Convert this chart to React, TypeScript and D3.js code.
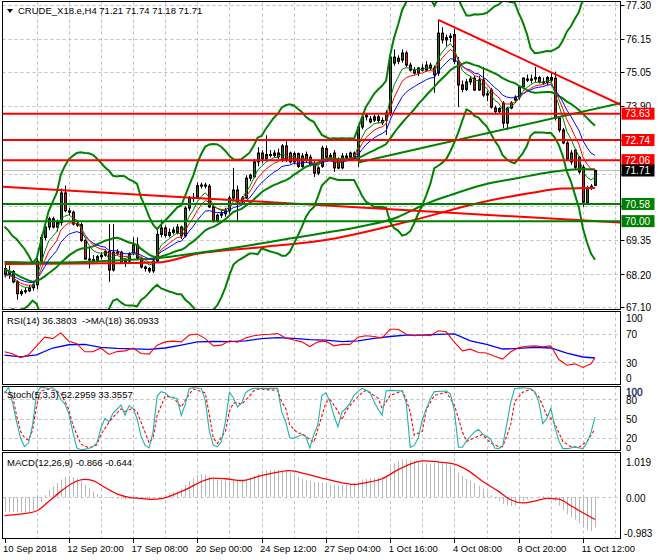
import React, { useEffect } from 'react'
import * as d3 from 'd3'

const W = 660
const H = 560

// CRUDE_X18.e H4 candles, bar 0 = 10 Sep 2018 00:00
const OPEN = [
  68.40, 68.20, 68.30, 67.95, 67.55, 67.62, 67.65, 67.75, 67.85, 68.65,
  69.45, 69.80, 70.08, 69.80, 69.95, 70.95, 70.35, 70.30, 69.90, 69.88,
  69.35, 68.72, 68.70, 68.65, 68.80, 68.85, 68.98, 68.35, 68.95, 68.95,
  68.60, 68.65, 68.90, 69.20, 68.75, 68.45, 68.40, 68.32, 68.65, 69.55,
  69.77, 69.52, 69.62, 69.62, 69.80, 69.50, 70.44, 70.78, 70.80, 71.20,
  71.22, 71.18, 70.48, 70.00, 70.20, 70.25, 70.35, 70.78, 71.05, 70.65,
  70.78, 71.45, 71.50, 72.00, 72.30, 72.10, 72.25, 72.22, 72.30, 72.05,
  72.54, 72.30, 72.00, 72.28, 71.85, 72.25, 72.16, 71.95, 71.62, 71.85,
  72.45, 72.16, 72.30, 72.06, 71.80, 72.20, 72.15, 72.30, 72.06, 73.18,
  73.52, 73.45, 73.41, 73.52, 73.40, 73.41, 73.65, 75.34, 75.50, 75.44,
  75.68, 75.27, 75.10, 75.00, 75.17, 75.10, 75.27, 75.17, 75.00, 76.35,
  76.12, 76.20, 76.30, 75.40, 74.60, 74.45, 74.70, 74.83, 74.43, 74.77,
  74.26, 74.43, 73.82, 73.70, 73.99, 73.31, 73.82, 74.09, 74.19, 74.53,
  74.80, 74.76, 74.80, 74.85, 74.70, 74.68, 74.85, 74.83, 73.48, 73.08,
  72.64, 72.00, 72.40, 72.16, 71.82, 70.61, 71.12, 71.21,
]
const HIGH = [
  68.55, 68.50, 68.35, 68.00, 67.70, 67.75, 67.85, 67.95, 68.75, 69.55,
  69.85, 70.15, 70.15, 70.05, 71.10, 71.20, 70.45, 70.35, 70.00, 69.95,
  69.40, 69.10, 68.85, 68.85, 68.95, 69.05, 69.90, 69.90, 69.05, 69.00,
  68.75, 68.95, 69.45, 69.45, 68.80, 68.50, 68.45, 68.75, 69.70, 70.05,
  69.85, 69.75, 69.80, 69.90, 69.85, 70.50, 70.85, 70.95, 71.30, 71.30,
  71.30, 71.25, 70.55, 70.25, 70.40, 70.45, 70.85, 71.80, 71.20, 70.85,
  71.55, 71.60, 72.10, 72.50, 72.40, 72.90, 72.40, 72.40, 72.45, 72.60,
  72.70, 72.35, 72.35, 72.32, 72.30, 72.35, 72.25, 72.05, 71.85, 72.55,
  72.55, 72.30, 72.40, 72.15, 72.30, 72.30, 72.35, 72.35, 73.25, 73.60,
  73.65, 73.55, 73.60, 73.60, 73.50, 73.75, 75.70, 75.80, 75.60, 75.80,
  75.75, 75.35, 75.20, 75.20, 75.30, 75.40, 75.35, 75.25, 76.80, 76.55,
  76.30, 76.35, 76.50, 75.55, 74.75, 74.80, 74.90, 74.90, 74.90, 75.20,
  74.40, 74.50, 73.90, 73.85, 74.05, 73.85, 74.05, 74.25, 74.55, 74.85,
  74.95, 74.95, 75.21, 74.90, 74.85, 74.90, 75.00, 75.05, 73.55, 73.15,
  72.70, 72.40, 72.45, 72.20, 71.90, 71.20, 71.25, 71.74,
]
const LOW = [
  68.10, 68.05, 67.90, 67.35, 67.48, 67.55, 67.60, 67.65, 67.70, 68.60,
  69.35, 69.70, 69.75, 69.65, 69.85, 70.30, 70.20, 69.85, 69.80, 69.30,
  68.70, 68.40, 68.55, 68.60, 68.70, 68.80, 67.95, 68.30, 68.85, 68.55,
  68.45, 68.60, 68.85, 68.70, 68.40, 68.30, 68.25, 68.25, 68.60, 69.45,
  69.45, 69.45, 69.55, 69.55, 69.40, 69.45, 70.35, 70.65, 70.75, 71.10,
  71.10, 70.45, 69.95, 69.95, 70.10, 70.15, 70.25, 70.70, 69.97, 70.55,
  70.75, 71.35, 71.45, 71.85, 71.95, 72.05, 72.15, 72.15, 72.10, 72.00,
  72.00, 71.95, 71.95, 71.80, 71.80, 72.00, 71.85, 71.49, 71.55, 71.80,
  72.10, 72.05, 71.66, 71.75, 71.75, 72.10, 72.10, 72.05, 71.82, 73.10,
  73.40, 73.30, 73.35, 73.30, 73.25, 72.91, 73.55, 75.25, 75.30, 75.35,
  75.20, 75.05, 74.95, 74.90, 75.05, 75.05, 75.10, 74.33, 74.90, 76.00,
  75.90, 76.05, 75.30, 73.85, 74.35, 74.40, 74.60, 74.40, 74.40, 74.20,
  74.05, 73.80, 73.60, 73.65, 73.14, 73.08, 73.78, 74.00, 74.10, 74.45,
  74.70, 74.65, 74.70, 74.65, 74.60, 74.60, 74.70, 73.40, 73.00, 72.60,
  72.05, 71.90, 71.75, 71.60, 70.48, 70.55, 71.05, 71.18,
]
const CLOSE = [
  68.20, 68.30, 67.95, 67.55, 67.62, 67.65, 67.75, 67.85, 68.65, 69.45,
  69.80, 70.08, 69.80, 69.95, 70.95, 70.35, 70.30, 69.90, 69.88, 69.35,
  68.72, 68.70, 68.65, 68.80, 68.85, 68.98, 68.35, 68.95, 68.95, 68.60,
  68.65, 68.90, 69.20, 68.75, 68.45, 68.40, 68.32, 68.65, 69.55, 69.77,
  69.52, 69.62, 69.70, 69.80, 69.50, 70.44, 70.78, 70.80, 71.20, 71.22,
  71.18, 70.48, 70.00, 70.20, 70.25, 70.35, 70.78, 71.05, 70.65, 70.78,
  71.45, 71.55, 72.00, 72.30, 72.10, 72.25, 72.22, 72.30, 72.18, 72.54,
  72.08, 72.00, 72.28, 71.85, 72.20, 72.05, 71.89, 71.62, 71.80, 72.47,
  72.16, 72.22, 71.80, 71.79, 72.20, 72.15, 72.30, 72.15, 73.18, 73.52,
  73.58, 73.35, 73.52, 73.40, 73.32, 73.65, 75.54, 75.54, 75.40, 75.68,
  75.27, 75.10, 75.00, 75.17, 75.10, 75.27, 75.17, 74.94, 76.35, 76.12,
  76.20, 76.25, 75.40, 74.60, 74.45, 74.70, 74.80, 74.43, 74.77, 74.26,
  74.30, 73.85, 73.70, 73.80, 73.31, 73.82, 73.99, 74.19, 74.53, 74.83,
  74.76, 74.80, 74.85, 74.70, 74.68, 74.85, 74.76, 73.48, 73.08, 72.64,
  72.10, 72.30, 71.82, 71.66, 70.64, 71.12, 71.18, 71.71,
]
// closes before the first visible bar, only used to warm up the bands and averages
const PRE_CLOSE = [69.1, 69.2, 69.0, 69.05, 68.9, 68.9, 68.8, 68.2, 68.1, 67.95, 67.9, 67.8, 67.85, 67.95, 68.0, 67.9, 68.05, 68.15, 68.3]

// slow averages as [bar, price]
const MA_GREEN = [[0, 68.62], [10, 68.60], [20, 68.62], [30, 68.69], [38, 68.75], [48, 68.92], [60, 69.16], [70, 69.39], [81, 69.63], [89, 69.83], [98, 70.14], [102, 70.40], [106, 70.64], [111, 70.88], [119, 71.22], [128, 71.46], [136, 71.66], [144, 71.76], [147, 71.74]]
const MA_RED = [[0, 68.55], [20, 68.57], [38, 68.60], [48, 68.90], [64, 69.12], [81, 69.39], [102, 70.04], [118, 70.61], [131, 70.95], [139, 71.10], [147, 71.12]]

// drawn objects
const TREND_DOWN = [[108, 76.80], [153.4, 73.93]]
const TREND_UP = [[88, 71.98], [153.4, 73.99]]
const TREND_LONG = [[-1, 71.17], [153.4, 69.95]]
const LEVELS_RED = [73.63, 72.74, 72.06]
const LEVELS_GREEN = [70.58, 70.00]
const LAST_PRICE = 71.71

const PRICE_TICKS = [77.30, 76.15, 75.05, 73.90, 72.75, 71.60, 70.50, 69.35, 68.20, 67.10]
// ticks whose labels sit under a price tag
const HIDDEN_TICKS = [72.75, 71.60, 70.50]
const TIME_BARS = [0, 16, 32, 48, 64, 80, 96, 112, 128, 144]
const TIME_LABELS = ['10 Sep 2018', '12 Sep 20:00', '17 Sep 08:00', '20 Sep 00:00', '24 Sep 12:00', '27 Sep 04:00', '1 Oct 16:00', '4 Oct 08:00', '8 Oct 20:00', '11 Oct 12:00']

// RSI(14) and its MA(18), [bar, value]
const RSI = [[0, 44.7], [2, 42], [4, 36.5], [6, 40.5], [8, 53], [10, 65], [12, 63], [14, 71], [16, 59.5], [18, 56], [20, 44.7], [22, 44.7], [24, 50], [26, 41], [28, 45], [30, 46], [32, 50], [34, 42.4], [36, 41.5], [38, 54], [40, 58.5], [42, 59.5], [44, 58.5], [46, 68], [48, 69.5], [50, 63], [52, 53], [54, 54], [56, 60], [58, 58], [60, 64], [62, 67], [64, 68.5], [66, 69], [68, 70], [70, 64], [72, 61], [74, 58.5], [76, 52], [78, 58.5], [80, 59.5], [82, 53], [84, 55], [86, 55], [88, 65], [90, 67], [92, 66], [94, 64], [96, 76], [98, 76], [100, 69], [102, 67], [104, 68], [106, 67], [108, 74], [110, 72.5], [112, 58], [114, 46], [116, 48.4], [118, 43.8], [120, 43], [122, 38.5], [124, 34.6], [126, 44.7], [128, 50.5], [130, 52.5], [132, 53], [134, 51.5], [136, 53], [138, 34], [140, 26], [142, 28], [144, 23], [146, 28], [147, 36.38]]
const RSI_MA = [[0, 40], [4, 37.8], [8, 40.5], [12, 50], [16, 54.5], [20, 55], [24, 51], [28, 49.4], [32, 48.7], [36, 48.2], [40, 50], [44, 54], [48, 58.5], [52, 59], [56, 58.8], [60, 60], [64, 63], [68, 64.5], [72, 63.5], [76, 61.5], [80, 61], [84, 58.8], [88, 60], [92, 63.5], [96, 66], [100, 67.8], [104, 67.8], [108, 69], [112, 69.5], [116, 60], [120, 55], [124, 48.6], [128, 49.4], [132, 51], [136, 50], [140, 43], [144, 37.5], [147, 36.09]]

// Stochastic(5,3,3) main and signal, [bar, value]
const STOCH_K = [[0, 89], [1, 99], [2, 75], [3, 45], [4, 19], [5, 6], [6, 12], [7, 40], [8, 90], [9, 99], [11, 97], [12, 98], [13, 93], [14, 80], [15, 73], [16, 58], [17, 29], [18, 4], [19, 1], [21, 3], [22, 6], [23, 12], [24, 35], [25, 50], [26, 45], [27, 58], [29, 71], [30, 55], [31, 70], [32, 66], [33, 50], [34, 22], [35, 8], [36, 4], [37, 30], [38, 85], [39, 92], [40, 90], [41, 84], [43, 81], [44, 55], [45, 72], [46, 97], [47, 98], [49, 97], [50, 78], [51, 30], [52, 8], [53, 6], [54, 14], [55, 45], [56, 91], [57, 82], [58, 68], [59, 74], [60, 90], [61, 95], [62, 97], [65, 97], [68, 97], [69, 60], [70, 45], [71, 20], [72, 19], [73, 22], [74, 25], [75, 22], [76, 4], [77, 25], [78, 40], [79, 86], [80, 90], [81, 77], [82, 55], [83, 37], [84, 60], [85, 66], [86, 74], [87, 86], [88, 92], [89, 97], [91, 91], [92, 76], [93, 65], [94, 55], [95, 93], [96, 94], [99, 93], [100, 75], [101, 5], [102, 8], [103, 20], [104, 48], [105, 65], [106, 81], [107, 92], [110, 93], [111, 88], [112, 62], [113, 5], [114, 5], [115, 15], [116, 22], [117, 29], [118, 33], [119, 26], [120, 22], [121, 18], [122, 4], [123, 3], [124, 7], [125, 40], [126, 75], [127, 97], [129, 98], [131, 97], [132, 92], [133, 76], [134, 42], [135, 50], [136, 66], [137, 37], [138, 15], [139, 3], [140, 3], [141, 4], [142, 6], [143, 4], [144, 3], [145, 12], [146, 28], [147, 52.3]]
const STOCH_D = [[0, 92], [2, 86], [3, 55], [4, 30], [5, 20], [6, 16], [7, 32], [8, 70], [9, 93], [11, 96], [14, 90], [16, 64], [17, 40], [19, 10], [21, 4], [23, 9], [24, 25], [26, 44], [27, 52], [29, 65], [30, 61], [32, 66], [33, 60], [35, 28], [36, 12], [37, 20], [38, 55], [40, 85], [42, 83], [44, 68], [45, 78], [46, 88], [47, 96], [50, 90], [51, 55], [52, 19], [53, 11], [55, 30], [56, 62], [57, 74], [58, 75], [59, 72], [61, 85], [62, 93], [63, 96], [68, 94], [69, 76], [70, 66], [71, 40], [73, 27], [74, 27], [76, 17], [77, 13], [78, 33], [80, 75], [81, 80], [83, 62], [84, 48], [85, 62], [87, 78], [89, 90], [90, 94], [93, 82], [94, 66], [96, 86], [99, 93], [100, 80], [101, 60], [102, 24], [104, 30], [105, 64], [107, 86], [110, 91], [112, 71], [114, 29], [115, 14], [117, 20], [119, 25], [121, 12], [123, 6], [124, 6], [125, 22], [126, 40], [127, 76], [129, 91], [131, 96], [133, 84], [135, 55], [136, 50], [137, 42], [139, 14], [141, 6], [143, 5], [145, 14], [147, 33.36]]

// MACD(12,26,9): main as histogram, one value per bar; signal as [bar, value]
const MACD_MAIN = [
  -0.42, -0.43, -0.43, -0.44, -0.44, -0.43, -0.42, -0.40, -0.33, -0.15,
  0.05, 0.20, 0.30, 0.40, 0.50, 0.58, 0.60, 0.57, 0.52, 0.45,
  0.35, 0.25, 0.15, 0.08, 0.03, 0.00, -0.02, -0.03, -0.05, -0.06,
  -0.07, -0.07, -0.06, -0.05, -0.05, -0.06, -0.06, -0.04, 0.00, 0.03,
  0.06, 0.10, 0.14, 0.18, 0.24, 0.35, 0.45, 0.55, 0.63, 0.65,
  0.63, 0.58, 0.52, 0.48, 0.47, 0.46, 0.47, 0.48, 0.47, 0.47,
  0.50, 0.55, 0.60, 0.66, 0.72, 0.75, 0.77, 0.78, 0.77, 0.76,
  0.74, 0.70, 0.64, 0.58, 0.52, 0.48, 0.45, 0.43, 0.42, 0.40,
  0.38, 0.36, 0.35, 0.34, 0.34, 0.35, 0.37, 0.40, 0.46, 0.50,
  0.52, 0.53, 0.54, 0.55, 0.56, 0.58, 0.82, 0.96, 1.03, 1.07,
  1.08, 1.05, 1.02, 1.00, 0.98, 0.96, 0.95, 0.97, 1.02, 1.00,
  0.97, 0.92, 0.82, 0.70, 0.60, 0.52, 0.46, 0.40, 0.32, 0.24,
  0.15, 0.05, -0.05, -0.12, -0.20, -0.24, -0.26, -0.24, -0.18, -0.12,
  -0.07, -0.03, 0.00, 0.02, 0.03, 0.02, 0.00, -0.12, -0.25, -0.38,
  -0.50, -0.58, -0.65, -0.75, -0.88, -0.95, -0.97, -0.87,
]
const MACD_SIGNAL = [[0, -0.53], [4, -0.49], [8, -0.40], [11, -0.13], [14, 0.16], [17, 0.40], [20, 0.50], [22, 0.47], [25, 0.27], [28, 0.09], [31, -0.01], [34, -0.04], [37, -0.07], [39, -0.05], [42, 0.06], [46, 0.26], [49, 0.44], [52, 0.54], [55, 0.52], [59, 0.47], [63, 0.58], [68, 0.71], [71, 0.75], [75, 0.66], [79, 0.54], [83, 0.43], [87, 0.36], [90, 0.41], [94, 0.52], [98, 0.78], [101, 0.94], [104, 1.03], [108, 1.00], [112, 0.94], [115, 0.78], [119, 0.45], [123, 0.16], [126, -0.08], [129, -0.17], [132, -0.12], [135, -0.04], [138, -0.06], [141, -0.25], [144, -0.45], [147, -0.644]]

const ALL_CLOSE = [...PRE_CLOSE, ...CLOSE]
const N0 = PRE_CLOSE.length

function ema(period: number): [number, number][] {
  const k = 2 / (period + 1)
  let e = ALL_CLOSE[0]
  const out: [number, number][] = []
  ALL_CLOSE.forEach((c, i) => {
    e = i === 0 ? c : c * k + e * (1 - k)
    if (i >= N0) out.push([i - N0, e])
  })
  return out
}

function bollinger(period: number, dev: number) {
  const up: [number, number][] = []
  const mid: [number, number][] = []
  const lo: [number, number][] = []
  CLOSE.forEach((_, i) => {
    const w = ALL_CLOSE.slice(i + N0 - period + 1, i + N0 + 1)
    const m = d3.mean(w) as number
    const s = Math.sqrt(d3.mean(w, v => (v - m) ** 2) as number)
    up.push([i, m + dev * s])
    mid.push([i, m])
    lo.push([i, m - dev * s])
  })
  return { up, mid, lo }
}

const FONT = "'Liberation Sans', Arial, sans-serif"
const GRID = '#c0c0c0'
const GREEN = '#008000'

export default function App() {
  useEffect(() => {
    document.body.style.margin = '0'
  }, [])

  const xb = d3.scaleLinear().domain([0, 147]).range([4.5, 595])
  const yP = d3.scaleLinear().domain([67.10, 77.30]).range([307, 5])
  const yR = d3.scaleLinear().domain([0, 100]).range([384, 312])
  const yS = d3.scaleLinear().domain([0, 100]).range([450.5, 386.5])
  const yM = d3.scaleLinear().domain([-0.983, 1.019]).range([531.4, 461.3])

  const L = 2.5
  const R = 620.5
  const panels = [[1.5, 309.5], [311.5, 384.5], [386.5, 450.5], [452.5, 538.5]]

  const line = (y: d3.ScaleLinear<number, number>, curve = d3.curveLinear) =>
    d3.line<number[]>().x(d => xb(d[0])).y(d => y(d[1])).curve(curve)

  const bb = bollinger(20, 3)
  const emaFast = ema(5)
  const emaMid = ema(8)
  const emaSlow = ema(13)

  const gridBars = d3.range(8, 153, 8)

  const priceTag = (v: number, fill: string, key: string) => (
    <g key={key}>
      <rect x={621.5} y={yP(v) - 6} width={33} height={12} fill={fill} />
      <text x={625} y={yP(v)} dy="0.36em" fontSize={10} fill="#fff">{v.toFixed(2)}</text>
    </g>
  )

  return (
    <svg width={W} height={H} style={{ display: 'block', position: 'absolute', left: 0, top: 0, background: '#fff' }} fontFamily={FONT}>
      <defs>
        {panels.map((p, i) => (
          <clipPath id={`clip${i}`} key={i}>
            <rect x={L + 0.5} y={p[0] + 0.5} width={R - L - 1} height={p[1] - p[0] - 1} />
          </clipPath>
        ))}
      </defs>
      <rect width={W} height={H} fill="#fff" />

      {/* vertical grid */}
      {panels.map((p, i) => (
        <g key={i}>
          {gridBars.map(b => (
            <line key={b} x1={Math.round(xb(b)) + 0.5} x2={Math.round(xb(b)) + 0.5} y1={p[0]} y2={p[1]} stroke={GRID} strokeDasharray="3,3" />
          ))}
        </g>
      ))}
      {/* horizontal grid */}
      {PRICE_TICKS.map(v => (
        <line key={v} x1={L} x2={R} y1={Math.round(yP(v)) + 0.5} y2={Math.round(yP(v)) + 0.5} stroke={GRID} strokeDasharray="3,3" />
      ))}
      {[70, 30].map(v => (
        <line key={v} x1={L} x2={R} y1={Math.round(yR(v)) + 0.5} y2={Math.round(yR(v)) + 0.5} stroke={GRID} strokeDasharray="3,3" />
      ))}
      {[80, 50, 20].map(v => (
        <line key={v} x1={L} x2={R} y1={Math.round(yS(v)) + 0.5} y2={Math.round(yS(v)) + 0.5} stroke={GRID} strokeDasharray="3,3" />
      ))}
      <line x1={L} x2={R} y1={Math.round(yM(0)) + 0.5} y2={Math.round(yM(0)) + 0.5} stroke={GRID} strokeDasharray="3,3" />

      {/* main chart */}
      <g clipPath="url(#clip0)">
        <line x1={L} x2={R} y1={yP(LAST_PRICE)} y2={yP(LAST_PRICE)} stroke="#c0c0c0" strokeWidth={1} />
        {CLOSE.map((c, i) => {
          const o = OPEN[i]
          const x = Math.round(xb(i)) + 0.5
          const top = yP(Math.max(o, c))
          const h = Math.max(1, Math.abs(yP(o) - yP(c)))
          return (
            <g key={i}>
              <line x1={x} x2={x} y1={yP(Math.max(HIGH[i], o, c))} y2={yP(Math.min(LOW[i], o, c))} stroke="#000" />
              <rect x={x - 1} y={top} width={2} height={h} fill={c >= o ? '#1f6b1f' : '#e81010'} stroke="#000" strokeWidth={1} />
            </g>
          )
        })}
        <path d={line(yP, d3.curveMonotoneX)(MA_RED) || ''} fill="none" stroke="#ff0000" strokeWidth={2} />
        <path d={line(yP, d3.curveMonotoneX)(MA_GREEN) || ''} fill="none" stroke={GREEN} strokeWidth={2} />
        <path d={line(yP)(bb.up) || ''} fill="none" stroke={GREEN} strokeWidth={2} />
        <path d={line(yP)(bb.mid) || ''} fill="none" stroke={GREEN} strokeWidth={2} />
        <path d={line(yP)(bb.lo) || ''} fill="none" stroke={GREEN} strokeWidth={2} />
        <path d={line(yP)(emaSlow) || ''} fill="none" stroke="#0000ff" strokeWidth={1} />
        <path d={line(yP)(emaMid) || ''} fill="none" stroke="#ff0000" strokeWidth={1} />
        <path d={line(yP)(emaFast) || ''} fill="none" stroke={GREEN} strokeWidth={1} />
        <path d={line(yP)(TREND_LONG) || ''} fill="none" stroke="#ff0000" strokeWidth={2} />
        <path d={line(yP)(TREND_UP) || ''} fill="none" stroke={GREEN} strokeWidth={2} />
        <path d={line(yP)(TREND_DOWN) || ''} fill="none" stroke="#ff0000" strokeWidth={2} />
        {LEVELS_RED.map(v => (
          <line key={v} x1={L} x2={R} y1={yP(v)} y2={yP(v)} stroke="#ff0000" strokeWidth={2} />
        ))}
        {LEVELS_GREEN.map(v => (
          <line key={v} x1={L} x2={R} y1={yP(v)} y2={yP(v)} stroke={GREEN} strokeWidth={2} />
        ))}
      </g>

      {/* RSI */}
      <g clipPath="url(#clip1)">
        <path d={line(yR)(RSI_MA) || ''} fill="none" stroke="#0000ff" strokeWidth={1.3} />
        <path d={line(yR)(RSI) || ''} fill="none" stroke="#ff0000" strokeWidth={1.1} />
      </g>

      {/* Stochastic */}
      <g clipPath="url(#clip2)">
        <path d={line(yS)(STOCH_D) || ''} fill="none" stroke="#ff0000" strokeWidth={1.1} strokeDasharray="3,2" />
        <path d={line(yS)(STOCH_K) || ''} fill="none" stroke="#20b2aa" strokeWidth={1.1} />
      </g>

      {/* MACD */}
      <g clipPath="url(#clip3)">
        {MACD_MAIN.map((v, i) => (
          <line key={i} x1={Math.round(xb(i)) + 0.5} x2={Math.round(xb(i)) + 0.5} y1={yM(0)} y2={yM(v)} stroke="#b8b8b8" strokeWidth={1} />
        ))}
        <path d={line(yM, d3.curveMonotoneX)(MACD_SIGNAL) || ''} fill="none" stroke="#ff0000" strokeWidth={1.3} />
      </g>

      {/* frames */}
      {panels.map((p, i) => (
        <rect key={i} x={L} y={p[0]} width={R - L} height={p[1] - p[0]} fill="none" stroke="#000" strokeWidth={1} />
      ))}

      {/* price axis */}
      {PRICE_TICKS.map(v => (
        <g key={v}>
          <line x1={R} x2={R + 4} y1={Math.round(yP(v)) + 0.5} y2={Math.round(yP(v)) + 0.5} stroke="#000" />
          {!HIDDEN_TICKS.includes(v) && (
            <text x={626} y={yP(v) + 0.5} dy="0.36em" fontSize={10} fill="#000">{v.toFixed(2)}</text>
          )}
        </g>
      ))}
      {LEVELS_RED.map(v => priceTag(v, '#ff0000', `r${v}`))}
      {LEVELS_GREEN.map(v => priceTag(v, GREEN, `g${v}`))}
      {priceTag(LAST_PRICE, '#000', 'last')}

      {/* indicator axes */}
      <text x={626} y={yR(100) + 6} dy="0.36em" fontSize={10}>100</text>
      <text x={626} y={yR(70) + 1} dy="0.36em" fontSize={10}>70</text>
      <text x={626} y={yR(30) + 1} dy="0.36em" fontSize={10}>30</text>
      <text x={626} y={yR(0) - 6} dy="0.36em" fontSize={10}>0</text>
      <text x={626} y={yS(100) + 5.5} dy="0.36em" fontSize={10} stroke="#1e3c96" strokeWidth={0.3}>100</text>
      <text x={626} y={yS(80) + 1.5} dy="0.36em" fontSize={10}>80</text>
      <text x={626} y={yS(50) + 1} dy="0.36em" fontSize={10}>50</text>
      <text x={626} y={yS(20) + 0.5} dy="0.36em" fontSize={10}>20</text>
      <text x={626} y={yS(0) - 2.5} dy="0.36em" fontSize={9}>0</text>
      <text x={626} y={yM(1.019) + 1} dy="0.36em" fontSize={10}>1.019</text>
      <text x={626} y={yM(0) + 1} dy="0.36em" fontSize={10}>0.00</text>
      <text x={624} y={yM(-0.983) + 1.5} dy="0.36em" fontSize={10}>-0.983</text>

      {/* time axis */}
      {TIME_BARS.map((b, i) => (
        <g key={b}>
          <line x1={Math.round(xb(b)) + 0.5} x2={Math.round(xb(b)) + 0.5} y1={538.5} y2={543} stroke="#000" />
          <text x={xb(b) - 1.5} y={549} dy="0.36em" fontSize={9.5}>{TIME_LABELS[i]}</text>
        </g>
      ))}

      {/* window titles */}
      <path d="M7,9 L13,9 L10,13 Z" fill="#000" />
      <text x={18} y={11} dy="0.36em" fontSize={9.5}>CRUDE_X18.e,H4  71.21 71.74 71.18 71.71</text>
      <text x={7} y={321} dy="0.36em" fontSize={9.5} style={{ whiteSpace: 'pre' }}>RSI(14) 36.3803  -&gt;MA(18) 36.0933</text>
      <text x={7} y={395} dy="0.36em" fontSize={9.5}>Stoch(5,3,3) 52.2959 33.3557</text>
      <text x={7} y={463} dy="0.36em" fontSize={9.5}>MACD(12,26,9) -0.866 -0.644</text>
    </svg>
  )
}
